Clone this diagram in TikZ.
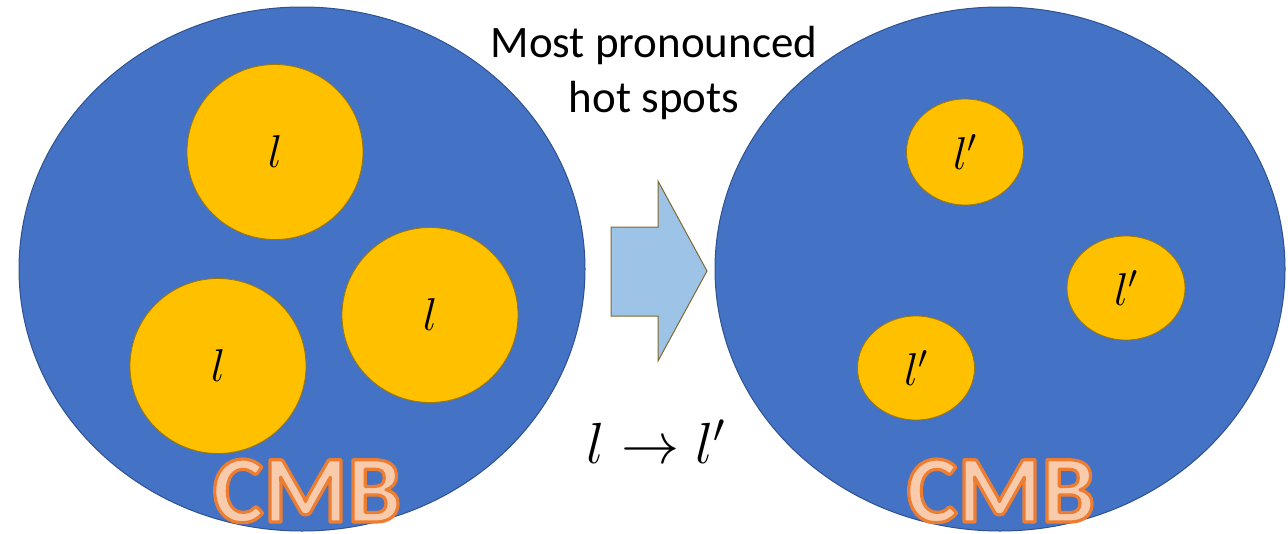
\RequirePackage{fix-cm}
\documentclass[tikz,border=0pt]{standalone}
\usepackage{fontspec}
\usetikzlibrary{shapes.geometric}
\newfontfamily\calibri{Carlito}
\definecolor{cmbblue}{HTML}{4472C4}
\definecolor{cmbedge}{HTML}{2F528F}
\definecolor{spotfill}{HTML}{FFC000}
\definecolor{spotedge}{HTML}{A07800}
\definecolor{arrowfill}{HTML}{9DC3E6}
\definecolor{arrowedge}{HTML}{7F6A30}
\definecolor{peach}{HTML}{F8CBAD}
\newcommand{\outlinedtext}[1]{\special{pdf:literal direct 0.929 0.490 0.192 RG 3.2 w 1 j 2 Tr}#1\special{pdf:literal direct 0 Tr}}
\tikzset{
  sky/.style={ellipse, draw=cmbedge, line width=1pt, fill=cmbblue, inner sep=0pt},
  spot/.style={ellipse, draw=spotedge, line width=0.8pt, fill=spotfill, inner sep=0pt, font=\fontsize{46}{46}\selectfont},
  bigspot/.style={spot, minimum width=176pt, minimum height=175pt},
  smallspot/.style={spot, minimum width=117pt, minimum height=106pt},
  cmblabel/.style={inner sep=0pt, anchor=base, font=\calibri\bfseries\fontsize{96}{96}\selectfont, text=peach},
  caption/.style={align=center, font=\calibri\fontsize{45}{55}\selectfont}
}
\begin{document}
\begin{tikzpicture}[x=1pt,y=-1pt]
\useasboundingbox (0,0) rectangle (1288,533);
% big skies
\node[sky, minimum width=566pt, minimum height=524pt] (skyL) at (302,269) {};
\node[sky, minimum width=570pt, minimum height=524pt] (skyR) at (1000,269) {};
% hot spots left
\node[bigspot] (l1) at (275,152) {$l$};
\node[bigspot] (l2) at (430,315) {$l$};
\node[bigspot] (l3) at (218,366) {$l$};
% hot spots right
\node[smallspot] (r1) at (965,152) {$l'$};
\node[smallspot, minimum width=118pt, minimum height=104pt] (r2) at (1126,288) {$l'$};
\node[smallspot, minimum width=117pt, minimum height=104pt] (r3) at (916,368) {$l'$};
% arrow
\draw[fill=arrowfill, draw=arrowedge, line width=1pt, line join=miter]
  (611,227) -- (658,227) -- (658,181) -- (707,271) -- (658,361) -- (658,316) -- (611,316) -- cycle;
% texts
\node[caption] (cap) at (654,73) {Most pronounced\\hot spots};
\node[font=\fontsize{58}{58}\selectfont, inner sep=0pt] (map) at (656,442) {$l \to l'$};
\node[cmblabel] (cmbL) at (307,522) {\outlinedtext{CMB}};
\node[cmblabel] (cmbR) at (1001,522) {\outlinedtext{CMB}};
\end{tikzpicture}
\end{document}
